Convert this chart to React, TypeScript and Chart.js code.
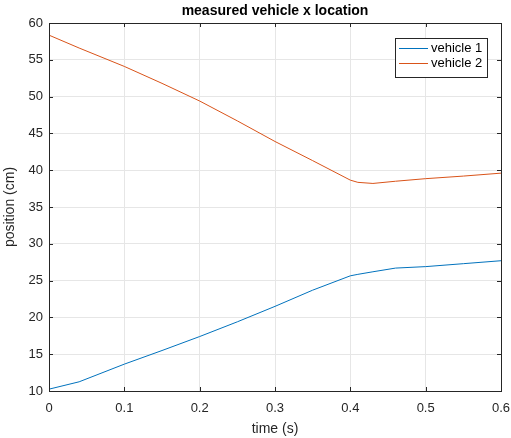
import React, { useEffect, useRef } from "react";
import { Chart, registerables } from "chart.js";

Chart.register(...registerables);

const titleText = "measured vehicle x location";
const xLabel = "time (s)";
const yLabel = "position (cm)";
const seriesNames = ["vehicle 1", "vehicle 2"];
const times = [0, 0.04, 0.1, 0.15, 0.2, 0.25, 0.3, 0.35, 0.4, 0.41, 0.43, 0.46, 0.5, 0.55, 0.6];
const vehicle1 = [10.25, 11.25, 13.65, 15.5, 17.4, 19.4, 21.5, 23.7, 25.65, 25.85, 26.2, 26.7, 26.9, 27.3, 27.7];
const vehicle2 = [58.35, 56.6, 54.1, 51.8, 49.4, 46.7, 43.9, 41.3, 38.65, 38.35, 38.2, 38.5, 38.85, 39.2, 39.6];
const xMin = 0, xMax = 0.6, xStep = 0.1;
const yMin = 10, yMax = 60, yStep = 5;

const FONT = "'Liberation Sans', Arial, Helvetica, sans-serif";
const AXIS_COLOR = "#262626";
const colors = ["#0072BD", "#D95319"];

const framePlugin = {
  id: "frame",
  afterDraw(chart: any) {
    const { ctx, chartArea: a, scales } = chart;
    ctx.save();
    ctx.strokeStyle = AXIS_COLOR;
    ctx.lineWidth = 1;
    ctx.strokeRect(Math.round(a.left) + 0.5, Math.round(a.top) + 0.5, Math.round(a.right - a.left), Math.round(a.bottom - a.top));
    const tl = 4;
    ctx.beginPath();
    scales.x.ticks.forEach((t: any) => {
      const px = Math.round(scales.x.getPixelForValue(t.value)) + 0.5;
      ctx.moveTo(px, a.bottom); ctx.lineTo(px, a.bottom - tl);
      ctx.moveTo(px, a.top); ctx.lineTo(px, a.top + tl);
    });
    scales.y.ticks.forEach((t: any) => {
      const py = Math.round(scales.y.getPixelForValue(t.value)) + 0.5;
      ctx.moveTo(a.left, py); ctx.lineTo(a.left + tl, py);
      ctx.moveTo(a.right, py); ctx.lineTo(a.right - tl, py);
    });
    ctx.stroke();
    ctx.fillStyle = "#000";
    ctx.font = `bold 14px ${FONT}`;
    ctx.textAlign = "center";
    ctx.textBaseline = "middle";
    ctx.fillText(titleText, (a.left + a.right) / 2, a.top - 12);
    const bx = 395, by = 38, bw = 92, bh = 39;
    ctx.fillStyle = "#fff";
    ctx.fillRect(bx, by, bw, bh);
    ctx.strokeStyle = AXIS_COLOR;
    ctx.strokeRect(bx + 0.5, by + 0.5, bw, bh);
    ctx.font = `13px ${FONT}`;
    ctx.textAlign = "left";
    seriesNames.forEach((name, i) => {
      const ly = by + 10.5 + i * 15;
      ctx.strokeStyle = colors[i];
      ctx.beginPath();
      ctx.moveTo(bx + 4, ly); ctx.lineTo(bx + 33, ly);
      ctx.stroke();
      ctx.fillStyle = "#000";
      ctx.fillText(name, bx + 36, ly);
    });
    ctx.restore();
  },
};

export default function App() {
  const ref = useRef<HTMLCanvasElement | null>(null);
  useEffect(() => {
    if (!ref.current) return;
    const chart = new Chart(ref.current, {
      type: "line",
      data: {
        datasets: [
          {
            label: seriesNames[0],
            data: times.map((t, i) => ({ x: t, y: vehicle1[i] })),
            borderColor: colors[0],
            borderWidth: 1,
            pointRadius: 0,
            tension: 0,
            fill: false,
          },
          {
            label: seriesNames[1],
            data: times.map((t, i) => ({ x: t, y: vehicle2[i] })),
            borderColor: colors[1],
            borderWidth: 1,
            pointRadius: 0,
            tension: 0,
            fill: false,
          },
        ],
      },
      options: {
        animation: false,
        responsive: false,
        layout: { padding: { top: 23, right: 10, left: 0, bottom: 0 } },
        plugins: { legend: { display: false }, title: { display: false }, tooltip: { enabled: false } },
        scales: {
          x: {
            type: "linear",
            min: xMin,
            max: xMax,
            afterFit: (s: any) => { s.height = 47; s.paddingLeft = 0; s.paddingRight = 0; },
            ticks: {
              stepSize: xStep,
              padding: 10,
              color: AXIS_COLOR,
              font: { family: FONT, size: 13 },
              maxRotation: 0,
              callback: (v: any) => String(Math.round(Number(v) * 10) / 10),
            },
            grid: { color: "#e6e6e6", drawTicks: false },
            border: { display: false },
            title: { display: true, text: xLabel, color: AXIS_COLOR, font: { family: FONT, size: 14 }, padding: { top: 0, bottom: 0 } },
          },
          y: {
            type: "linear",
            min: yMin,
            max: yMax,
            afterFit: (s: any) => { s.width = 49; s.paddingTop = 0; s.paddingBottom = 0; },
            ticks: {
              stepSize: yStep,
              padding: 6,
              color: AXIS_COLOR,
              font: { family: FONT, size: 13 },
            },
            grid: { color: "#e6e6e6", drawTicks: false },
            border: { display: false },
            title: { display: true, text: yLabel, color: AXIS_COLOR, font: { family: FONT, size: 14 }, padding: { top: 2, bottom: 0 } },
          },
        },
      },
      plugins: [framePlugin],
    });
    return () => chart.destroy();
  }, []);
  return (
    <div style={{ position: "absolute", left: 0, top: 0, width: 511, height: 438, background: "#fff" }}>
      <canvas ref={ref} width={511} height={438} style={{ display: "block" }} />
    </div>
  );
}
